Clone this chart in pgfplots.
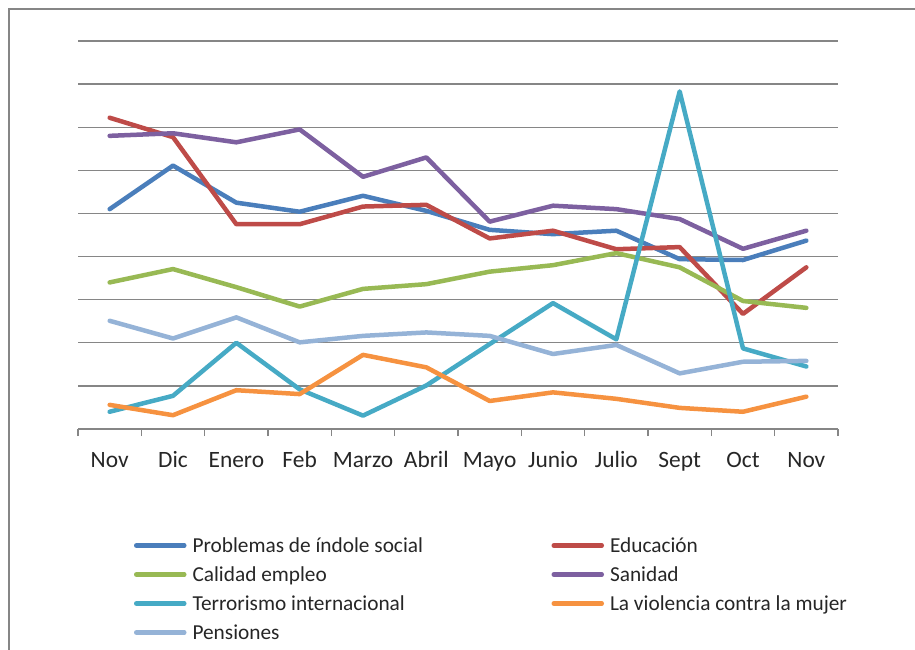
\documentclass[border=0pt]{standalone}
\usepackage{pgfplots}
\usepackage{pgfplotstable}
\pgfplotsset{compat=1.18}
\usepackage{fontspec}
\setmainfont{Carlito}
\definecolor{cProb}{HTML}{4A7EBB}
\definecolor{cEdu}{HTML}{BE4B48}
\definecolor{cCal}{HTML}{98B954}
\definecolor{cSan}{HTML}{7D60A0}
\definecolor{cTer}{HTML}{46AAC5}
\definecolor{cVio}{HTML}{F69240}
\definecolor{cPen}{HTML}{95B3D7}
\definecolor{cGrid}{HTML}{868686}
\definecolor{cText}{HTML}{262626}
\pgfplotstableread{
x prob edu cal san ter vio pen
0  5.10 7.22 3.40 6.80 0.40 0.56 2.51
1  6.11 6.77 3.71 6.86 0.77 0.32 2.10
2  5.25 4.75 3.29 6.65 2.00 0.90 2.59
3  5.04 4.75 2.84 6.95 0.92 0.81 2.01
4  5.41 5.16 3.25 5.85 0.31 1.72 2.16
5  5.06 5.20 3.36 6.30 1.01 1.43 2.24
6  4.62 4.42 3.65 4.81 1.97 0.65 2.16
7  4.52 4.60 3.80 5.18 2.92 0.85 1.74
8  4.60 4.17 4.08 5.10 2.08 0.70 1.95
9  3.94 4.22 3.75 4.87 7.83 0.49 1.29
10 3.92 2.67 2.97 4.18 1.87 0.40 1.56
11 4.37 3.75 2.81 4.60 1.45 0.75 1.58
}\datatable
\begin{document}
\begin{tikzpicture}
\path[use as bounding box] (0bp,0bp) rectangle (915bp,-650bp);
\draw[line width=2.2bp, color=cGrid] (9bp,-650bp) -- (9bp,-9bp) -- (915bp,-9bp);
\begin{axis}[
  at={(78bp,-429bp)}, anchor=south west,
  scale only axis, width=760bp, height=388bp,
  xmin=-0.5, xmax=11.5, ymin=0, ymax=9,
  axis x line*=bottom, axis y line*=left,
  y axis line style={draw=none},
  x axis line style={color=cGrid, line width=1.3bp, -},
  ytick={1,2,...,9}, yticklabels={},
  major y tick style={draw=none},
  ymajorgrids,
  major grid style={color=cGrid, line width=1.3bp},
  xtick={0,1,...,11},
  xticklabels={Nov,Dic,Enero,Feb,Marzo,Abril,Mayo,Junio,Julio,Sept,Oct,Nov},
  major tick length=0pt,
  minor xtick={-0.5,0.5,...,11.5},
  minor tick length=7bp,
  tick align=outside,
  minor x tick style={color=cGrid, line width=1.3bp},
  xticklabel style={anchor=base, yshift=-38.5bp, font=\fontsize{23.5}{27}\selectfont, text=cText},
  every axis plot/.append style={line width=4.5bp, line cap=round, line join=round, no markers},
  legend image code/.code={\draw[#1] (0bp,0bp) -- (48bp,0bp);},
  legend columns=2,
  legend cell align=left,
  legend style={
    at={(axis description cs:0.0737,-0.2629)}, anchor=north west,
    draw=none, fill=none, inner sep=0pt, outer sep=0pt,
    column sep=0pt, row sep=0pt,
    font=\fontsize{21.4}{25}\selectfont, text=cText,
    nodes={inner xsep=6bp, inner ysep=0pt, minimum height=29bp},
  },
]
\addplot[color=cProb] table[x=x, y=prob] {\datatable};
\addlegendentry{\makebox[353bp][l]{Problemas de índole social}}
\addplot[color=cEdu] table[x=x, y=edu] {\datatable};
\addlegendentry{Educación}
\addplot[color=cCal] table[x=x, y=cal] {\datatable};
\addlegendentry{\makebox[353bp][l]{Calidad empleo}}
\addplot[color=cSan] table[x=x, y=san] {\datatable};
\addlegendentry{Sanidad}
\addplot[color=cTer] table[x=x, y=ter] {\datatable};
\addlegendentry{\makebox[353bp][l]{Terrorismo internacional}}
\addplot[color=cVio] table[x=x, y=vio] {\datatable};
\addlegendentry{La violencia contra la mujer}
\addplot[color=cPen] table[x=x, y=pen] {\datatable};
\addlegendentry{\makebox[353bp][l]{Pensiones}}
\end{axis}
\end{tikzpicture}
\end{document}
